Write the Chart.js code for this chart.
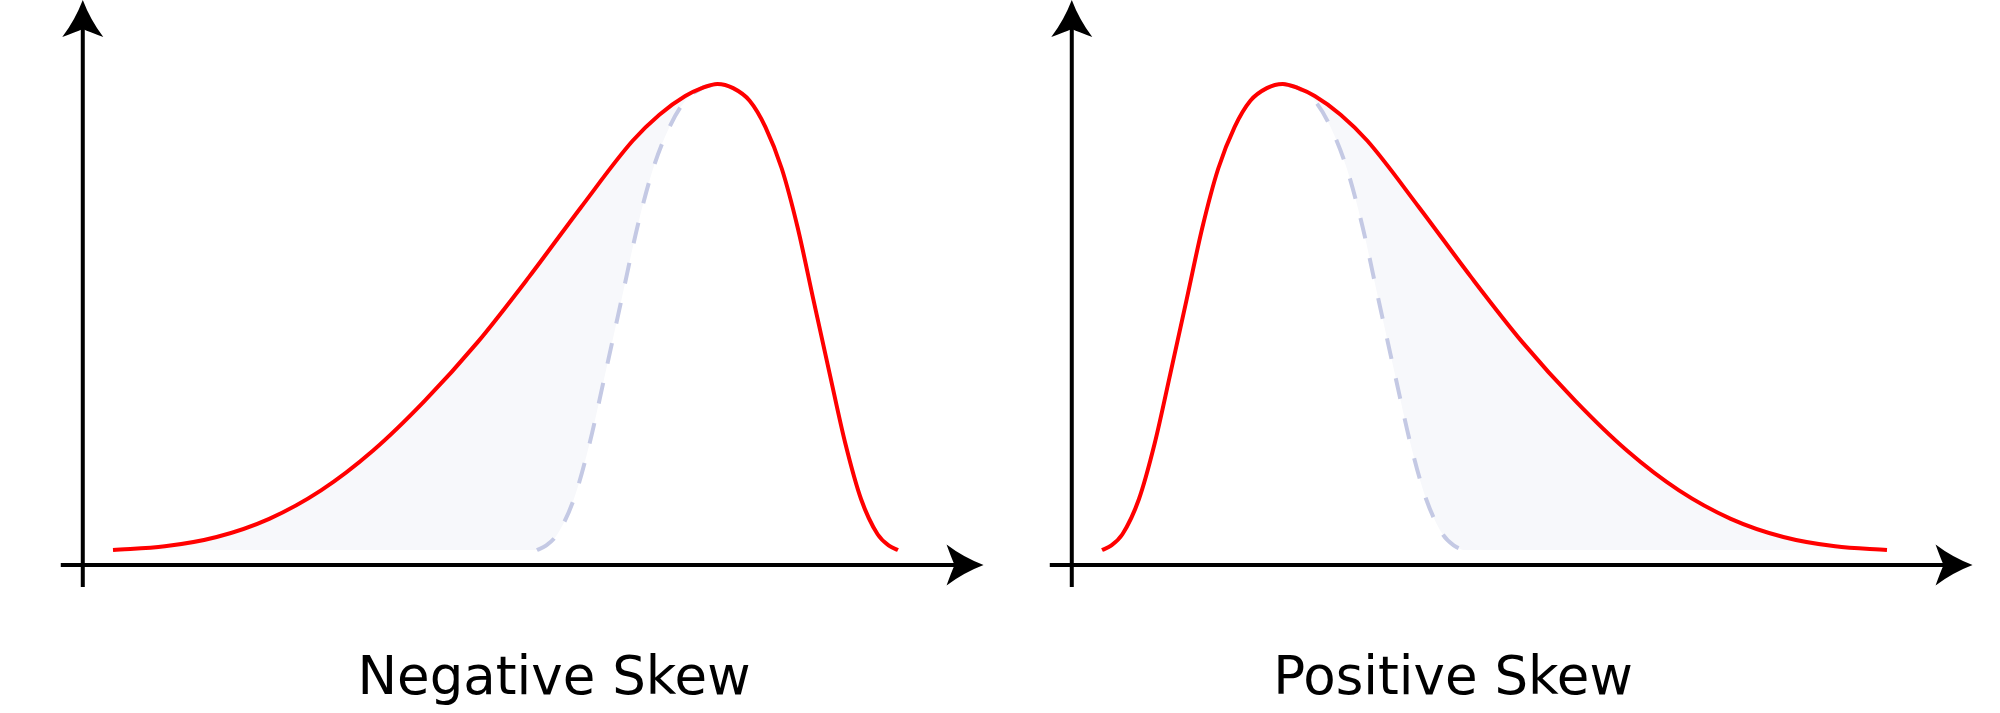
<!DOCTYPE html>
<html><head><meta charset="utf-8">
<script src="https://cdn.jsdelivr.net/npm/chart.js@4/dist/chart.umd.min.js"></script>
<style>
html,body{margin:0;padding:0;background:#fff;width:2000px;height:713px;overflow:hidden;}
.panel{position:absolute;top:0;width:989px;height:713px;}
.panel canvas{display:block;width:989px;height:713px;}
.label{position:absolute;top:649px;font-family:"DejaVu Sans";font-size:53px;line-height:1;white-space:nowrap;transform:translateX(-50%);color:#000;}
</style></head><body>
<div class="panel" style="left:0"><canvas id="c0" width="989" height="713"></canvas></div>
<div class="panel" style="left:989px"><canvas id="c1" width="989" height="713"></canvas></div>
<div class="label" id="l0" style="left:554px"></div>
<div class="label" id="l1" style="left:1453px"></div>
<script>
// ---- data (x: 0..100 along the curve, y: 0..100 height) ----
const panelLabels = ['Negative Skew', 'Positive Skew'];

const negRedX = [0, 6.6, 13.2, 19.9, 26.5, 33.1, 39.7, 46.4, 53.0, 59.6, 66.2, 69.6, 72.9, 75.0, 77, 79.0, 81.1, 83.1, 85.2, 87.2, 89.2, 91.3, 93.3, 95.3, 97.4, 98.9, 100];
const negRedY = [0, 0.8, 2.8, 6.7, 12.8, 21.3, 32.0, 44.5, 58.6, 73.5, 87.8, 93.4, 97.4, 99.1, 100, 99.1, 96.4, 90.8, 81.8, 69.3, 53.9, 37.8, 22.8, 10.9, 3.4, 0.9, 0];
const negNormX = [54, 55.1, 56.6, 58.7, 60.7, 62.7, 64.8, 66.8, 68.8, 70.9, 72.9, 75.0, 77, 79.0, 81.1, 83.1, 85.2, 87.2, 89.2, 91.3, 93.3, 95.3, 97.4, 98.9, 100];
const negNormY = [0, 0.9, 3.4, 10.9, 22.8, 37.8, 53.9, 69.3, 81.8, 90.8, 96.4, 99.1, 100, 99.1, 96.4, 90.8, 81.8, 69.3, 53.9, 37.8, 22.8, 10.9, 3.4, 0.9, 0];

const posRedX = [0, 1.1, 2.6, 4.7, 6.7, 8.7, 10.8, 12.8, 14.8, 16.9, 18.9, 21.0, 23, 25.0, 27.1, 30.4, 33.8, 40.4, 47.0, 53.6, 60.3, 66.9, 73.5, 80.1, 86.8, 93.4, 100];
const posRedY = [0, 0.9, 3.4, 10.9, 22.8, 37.8, 53.9, 69.3, 81.8, 90.8, 96.4, 99.1, 100, 99.1, 97.4, 93.4, 87.8, 73.5, 58.6, 44.5, 32.0, 21.3, 12.8, 6.7, 2.8, 0.8, 0];
const posNormX = [0, 1.1, 2.6, 4.7, 6.7, 8.7, 10.8, 12.8, 14.8, 16.9, 18.9, 21.0, 23, 25.0, 27.1, 29.1, 31.2, 33.2, 35.2, 37.3, 39.3, 41.3, 43.4, 44.9, 46];
const posNormY = [0, 0.9, 3.4, 10.9, 22.8, 37.8, 53.9, 69.3, 81.8, 90.8, 96.4, 99.1, 100, 99.1, 96.4, 90.8, 81.8, 69.3, 53.9, 37.8, 22.8, 10.9, 3.4, 0.9, 0];

// ---- helpers ----
const toPts = (xs, ys) => xs.map((x, i) => ({x, y: ys[i]}));
const peakX = (xs, ys) => xs[ys.indexOf(Math.max(...ys))];

function arrowHead(ctx, tipX, tipY, dx, dy, o) {
  const L = o.headLen, W = o.headWidth, N = o.notch;
  const px = -dy, py = dx;
  const P = (u, v) => [tipX + dx * u + px * v, tipY + dy * u + py * v];
  ctx.beginPath();
  let p = P(0, 0); ctx.moveTo(p[0], p[1]);
  let c = P(-L * 0.55, W * 0.38), w = P(-L, W);
  ctx.quadraticCurveTo(c[0], c[1], w[0], w[1]);
  c = P(-L + N * 0.6, W * 0.35); let n = P(-L + N, 0);
  ctx.quadraticCurveTo(c[0], c[1], n[0], n[1]);
  c = P(-L + N * 0.6, -W * 0.35); w = P(-L, -W);
  ctx.quadraticCurveTo(c[0], c[1], w[0], w[1]);
  c = P(-L * 0.55, -W * 0.38); p = P(0, 0);
  ctx.quadraticCurveTo(c[0], c[1], p[0], p[1]);
  ctx.closePath();
  ctx.fill();
}

const arrowAxes = {
  id: 'arrowAxes',
  afterDraw(chart, args, o) {
    const {ctx, scales: {x, y}} = chart;
    const ax = x.getPixelForValue(o.yAxisAt), ay = y.getPixelForValue(o.xAxisAt);
    const tx = x.getPixelForValue(o.xTip), ty = y.getPixelForValue(o.yTip);
    ctx.save();
    ctx.strokeStyle = o.color; ctx.fillStyle = o.color; ctx.lineWidth = o.width; ctx.lineCap = 'butt';
    ctx.beginPath();
    ctx.moveTo(ax, ay + o.overshoot); ctx.lineTo(ax, ty + o.headLen - o.notch - 1);
    ctx.moveTo(ax - o.overshoot, ay); ctx.lineTo(tx - o.headLen + o.notch + 1, ay);
    ctx.stroke();
    arrowHead(ctx, ax, ty, 0, -1, o);
    arrowHead(ctx, tx, ay, 1, 0, o);
    ctx.restore();
  }
};

function makeChart(id, redX, redY, normX, normY, leftSide) {
  const pk = peakX(redX, redY);
  const dashIdx = normX.map((x, i) => i).filter(i => leftSide ? normX[i] <= pk : normX[i] >= pk);
  const dashX = dashIdx.map(i => normX[i]), dashY = dashIdx.map(i => normY[i]);
  return new Chart(document.getElementById(id), {
    type: 'line',
    data: {
      datasets: [
        { // white mask under the symmetric curve
          data: toPts(normX, normY), order: 0,
          borderWidth: 0, borderColor: 'rgba(0,0,0,0)', backgroundColor: '#ffffff', fill: 'origin'
        },
        { // skewed curve
          data: toPts(redX, redY), order: 1,
          borderColor: '#ff0000', borderWidth: 4, backgroundColor: '#f7f8fb', fill: 'origin'
        },
        { // symmetric reference (dashed)
          data: toPts(dashX, dashY), order: 2,
          borderColor: '#c4c9e4', borderWidth: 4, borderDash: [21, 20], fill: false
        }
      ]
    },
    options: {
      responsive: false, animation: false, devicePixelRatio: 1,
      layout: {padding: {left: 34.5, right: 4.65, top: 0, bottom: 93}},
      elements: {point: {radius: 0, hoverRadius: 0}, line: {cubicInterpolationMode: 'monotone'}},
      scales: {
        x: {type: 'linear', min: -10, max: 111, bounds: 'data', display: false},
        y: {type: 'linear', min: -15, max: 118, bounds: 'data', display: false}
      },
      plugins: {
        legend: {display: false}, tooltip: {enabled: false}, title: {display: false},
        filler: {drawTime: 'beforeDatasetsDraw'},
        arrowAxes: {yAxisAt: -3.85, xAxisAt: -3.2, xTip: 110.9, yTip: 118, overshoot: 22,
          color: '#000000', width: 4, headLen: 37, headWidth: 20.5, notch: 8}
      },
      events: []
    },
    plugins: [arrowAxes]
  });
}

makeChart('c0', negRedX, negRedY, negNormX, negNormY, true);
makeChart('c1', posRedX, posRedY, posNormX, posNormY, false);
document.getElementById('l0').textContent = panelLabels[0];
document.getElementById('l1').textContent = panelLabels[1];
</script>
</body></html>
